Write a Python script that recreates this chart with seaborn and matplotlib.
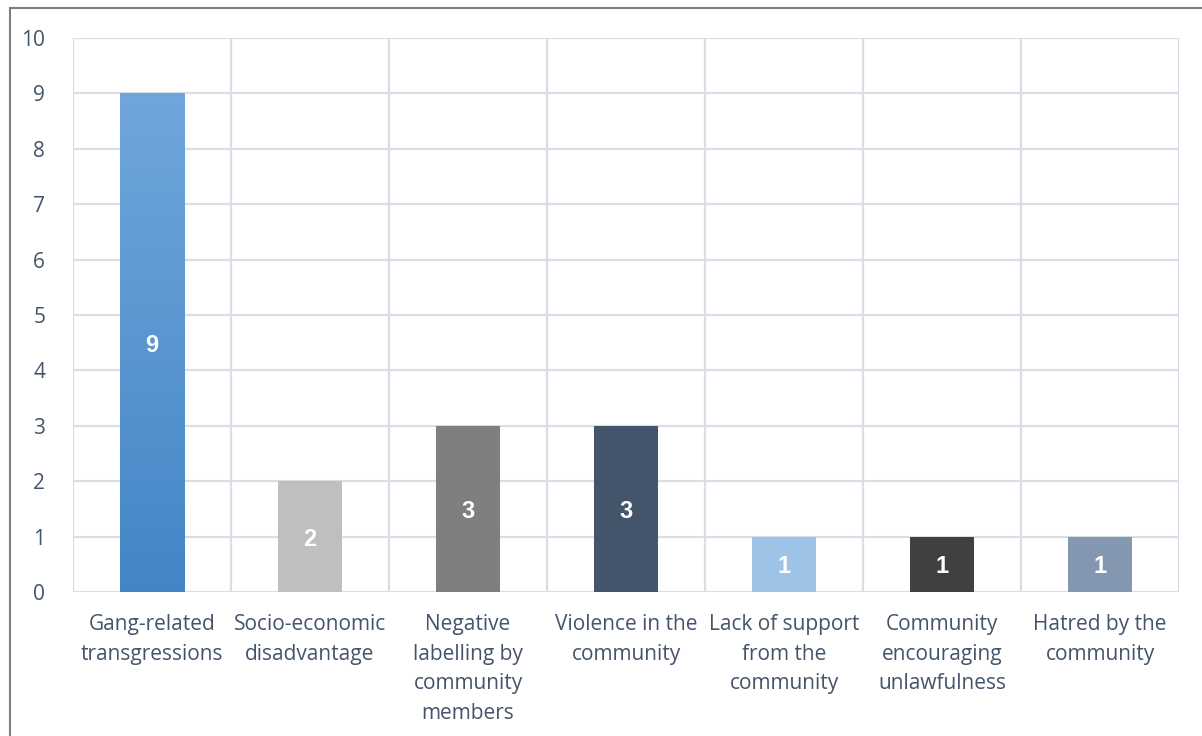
import numpy as np
import matplotlib
matplotlib.use("Agg")
import matplotlib.pyplot as plt
import seaborn as sns
from matplotlib.patches import Rectangle
from matplotlib.colors import LinearSegmentedColormap

categories = [
    "Gang-related\ntransgressions",
    "Socio-economic\ndisadvantage",
    "Negative\nlabelling by\ncommunity\nmembers",
    "Violence in the\ncommunity",
    "Lack of support\nfrom the\ncommunity",
    "Community\nencouraging\nunlawfulness",
    "Hatred by the\ncommunity",
]
values = [9, 2, 3, 3, 1, 1, 1]
bar_colors = ["#5A9AD6", "#BFBFBF", "#7F7F7F", "#44546A", "#9DC3E6", "#404040", "#8497B0"]
y_ticks = list(range(0, 11))

sns.set_theme(style="white")
plt.rcParams["font.family"] = ["Open Sans", "DejaVu Sans"]

fig = plt.figure(figsize=(12.02, 7.36), dpi=100)
ax = fig.add_axes([0.0607, 0.1957, 0.9203, 0.7527])

grid_c = "#D9DEE6"
label_c = "#44546A"

sns.barplot(x=list(range(len(values))), y=values, hue=list(range(len(values))),
            palette=bar_colors, legend=False, width=0.405, saturation=1,
            ax=ax, zorder=3, edgecolor="none", linewidth=0)

# gradient for first bar
bar0 = ax.patches[0]
grad = LinearSegmentedColormap.from_list("g", ["#4386C6", "#70A6DC"])
x0, y0 = bar0.get_x(), bar0.get_y()
w, h = bar0.get_width(), bar0.get_height()
img = ax.imshow(np.linspace(0, 1, 256).reshape(-1, 1), cmap=grad, origin="lower",
                extent=[x0, x0 + w, y0, y0 + h], aspect="auto", zorder=4)
img.set_clip_path(bar0)

ax.set_xlim(-0.5, len(values) - 0.5)
ax.set_ylim(0, 10)
ax.set_yticks(y_ticks)
ax.set_yticklabels([str(t) for t in y_ticks])
ax.set_xticks(range(len(values)))
ax.set_xticklabels(categories, linespacing=1.53)

for yv in y_ticks:
    ax.axhline(yv, color=grid_c, lw=1.6, zorder=1)
for xv in np.arange(-0.5, len(values), 1.0):
    ax.axvline(xv, color=grid_c, lw=1.6, zorder=1)

for s in ax.spines.values():
    s.set_visible(False)

ax.tick_params(axis="both", length=0, colors=label_c, labelsize=15)
ax.tick_params(axis="y", pad=20)
ax.tick_params(axis="x", pad=16)
ax.set_xlabel("")
ax.set_ylabel("")

for i, v in enumerate(values):
    ax.text(i, v / 2, str(v), ha="center", va="center_baseline", color="white",
            fontsize=17, fontweight="bold", family="Liberation Sans", zorder=6)

# outer border
fig.add_artist(Rectangle((10 / 1202, -0.01), 1.0, 1 - 8 / 736 + 0.01,
                         transform=fig.transFigure, fill=False,
                         edgecolor="#7F7F7F", lw=1.5))

fig.savefig("out.png", dpi=100, facecolor="white")
